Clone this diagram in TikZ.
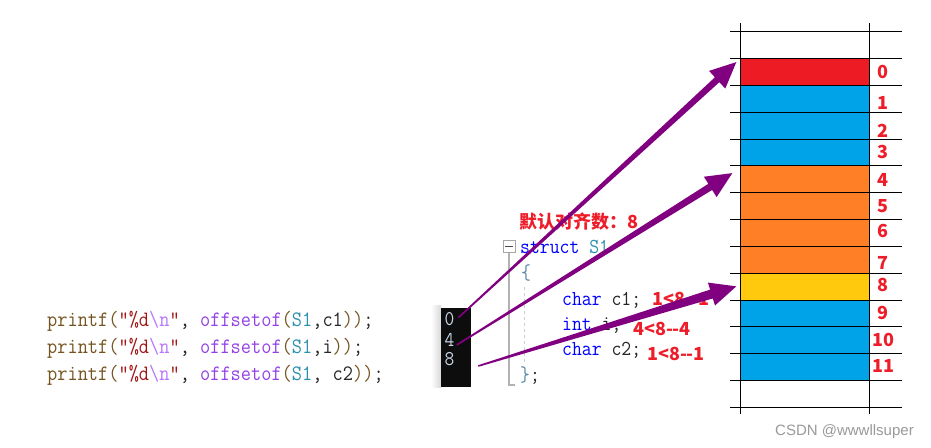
\documentclass[tikz,border=0pt]{standalone}
\usepackage{fontspec}
\usepackage{xcolor}
\usepackage{tikz}
\usetikzlibrary{positioning, calc}

\setmainfont{Liberation Sans}
\newfontfamily\codefont[FakeStretch=0.9]{Latin Modern Mono}
\newfontfamily\cjkfont{Noto Sans CJK SC}

\definecolor{cellred}{HTML}{ED1C24}
\definecolor{cellblue}{HTML}{00A2E8}
\definecolor{cellorange}{HTML}{FF7F27}
\definecolor{cellyellow}{HTML}{FFC90E}
\definecolor{labred}{HTML}{EE1D2A}
\definecolor{arrowpurple}{HTML}{800080}
\definecolor{fnbrown}{HTML}{74531F}
\definecolor{strred}{HTML}{A31515}
\definecolor{escviolet}{HTML}{B776FB}
\definecolor{macroviolet}{HTML}{9340E6}
\definecolor{typeteal}{HTML}{2B91AF}
\definecolor{kwblue}{HTML}{0000FF}
\definecolor{bracegray}{HTML}{5A86A8}
\definecolor{consolefg}{HTML}{C8D6E6}

% tapered arrow: tail, tip, half width at the head
\newcommand\fatarrow[3]{%
  \coordinate (hb) at ($(#2)!26pt!(#1)$);
  \fill[arrowpurple] ($(#1)!0.8pt!90:(#2)$) -- ($(hb)!#3!-90:(#1)$)
    -- ($(hb)!12pt!-90:(#1)$) -- (#2) -- ($(hb)!12pt!90:(#1)$)
    -- ($(hb)!#3!90:(#1)$) -- ($(#1)!0.8pt!-90:(#2)$) -- cycle;}

\begin{document}
\begin{tikzpicture}[
  x=1pt, y=-1pt,
  cell/.style={minimum width=128.5pt, minimum height=26.83pt, inner sep=0, draw=none},
  grid/.style={line width=1pt, black},
  numlab/.style={font=\cjkfont\bfseries\fontsize{18}{18}\selectfont, text=labred, inner sep=0},
  redlab/.style={font=\cjkfont\bfseries\fontsize{18}{18}\selectfont, text=labred, inner sep=0, anchor=base west},
  pcode/.style={font=\codefont\fontsize{22}{22}\selectfont, text=black!85, inner sep=0, anchor=base west},
  scode/.style={font=\codefont\fontsize{21.3}{22}\selectfont, text=black!85, inner sep=0, anchor=base west},
  cdigit/.style={font=\codefont\fontsize{21}{21}\selectfont, text=consolefg, inner sep=0, anchor=base west}
]
  \useasboundingbox (0,0) rectangle (931,447);

  % memory table
  \foreach \k/\c in {0/cellred, 1/cellblue, 2/cellblue, 3/cellblue, 4/cellorange, 5/cellorange,
                     6/cellorange, 7/cellorange, 8/cellyellow, 9/cellblue, 10/cellblue, 11/cellblue}
    \node[cell, fill=\c] (r\k) at (804.75, {71.73+26.83*\k}) {};
  \foreach \k in {0,...,14}
    \draw[grid] (730, {31.7+26.83*\k}) -- (902, {31.7+26.83*\k});
  \draw[grid] (740.5,23) -- (740.5,414);
  \draw[grid] (869,23) -- (869,414);
  \foreach \k/\dy in {0/0, 1/4.5, 2/5, 3/0, 4/1, 5/0, 6/-2, 7/3.5, 8/-1, 9/0, 10/0, 11/-1}
    \node[numlab] (n\k) at ([xshift=14pt, yshift=-\dy pt]r\k.east) {\k};

  % printf lines
  \node[pcode] (p1) at (47,326) {{\color{fnbrown}printf(}{\color{strred}"\%d}{\color{escviolet}\textbackslash n}{\color{strred}"}, {\color{macroviolet}offsetof}{\color{fnbrown}(}{\color{typeteal}S1},c1{\color{fnbrown}))};};
  \node[pcode] (p2) at (47,353) {{\color{fnbrown}printf(}{\color{strred}"\%d}{\color{escviolet}\textbackslash n}{\color{strred}"}, {\color{macroviolet}offsetof}{\color{fnbrown}(}{\color{typeteal}S1},i{\color{fnbrown}))};};
  \node[pcode] (p3) at (47,380) {{\color{fnbrown}printf(}{\color{strred}"\%d}{\color{escviolet}\textbackslash n}{\color{strred}"}, {\color{macroviolet}offsetof}{\color{fnbrown}(}{\color{typeteal}S1}, c2{\color{fnbrown}))};};

  % console output
  \shade[left color=white, right color=gray!30] (431,305) rectangle (441,387);
  \fill[black!95] (441,308) rectangle (471,387);
  \node[cdigit] (d0) at (444.5,325.7) {0};
  \node[cdigit] (d4) at (444.5,346.7) {4};
  \node[cdigit] (d8) at (444.5,365.7) {8};

  % struct source
  \node[draw=gray!70, line width=0.8pt, minimum size=12pt, inner sep=0] (fold) at (509,246.7) {};
  \draw[black!70, line width=0.9pt] ([xshift=2.5pt]fold.west) -- ([xshift=-2.5pt]fold.east);
  \draw[gray!60, line width=1.2pt] (fold.south) |- (515,385);
  \draw[gray!40, dashed, line width=1pt] (524,287) -- (524,363);
  \node[scode] (st) at (520,253) {{\color{kwblue}struct} {\color{typeteal}S1}};
  \node[scode] (ob) at (521,279) {{\color{bracegray}\{}};
  \node[scode] (m1) at (562,305) {{\color{kwblue}char} c1;};
  \node[scode] (m2) at (562,330) {{\color{kwblue}int} i;};
  \node[scode] (m3) at (562,355) {{\color{kwblue}char} c2;};
  \node[scode] (cb) at (520,381) {{\color{bracegray}\}};};

  \node[redlab] (align) at (519,228) {默认对齐数：8};
  \node[redlab] (l1) at (652,305) {1<8--1};
  \node[redlab] (l2) at (633,335) {4<8--4};
  \node[redlab] (l3) at (647,360.7) {1<8--1};

  \node[font=\fontsize{15}{15}\selectfont, text=black!40, inner sep=0, anchor=base west] (wm) at (775,435) {CSDN @wwwllsuper};

  % arrows
  \coordinate (t0) at (458.3,317.7);
  \coordinate (t4) at (456.7,345);
  \coordinate (t8) at (478.3,366);
  \coordinate (h0) at ($(r0.north west)+(-4,4)$);
  \coordinate (h4) at ($(r4.north west)+(-8,7.7)$);
  \coordinate (h8) at ($(r8.west)+(-4,0)$);
  \fatarrow{t0}{h0}{3.3pt}
  \fatarrow{t4}{h4}{3.6pt}
  \fatarrow{t8}{h8}{4.6pt}
\end{tikzpicture}
\end{document}
